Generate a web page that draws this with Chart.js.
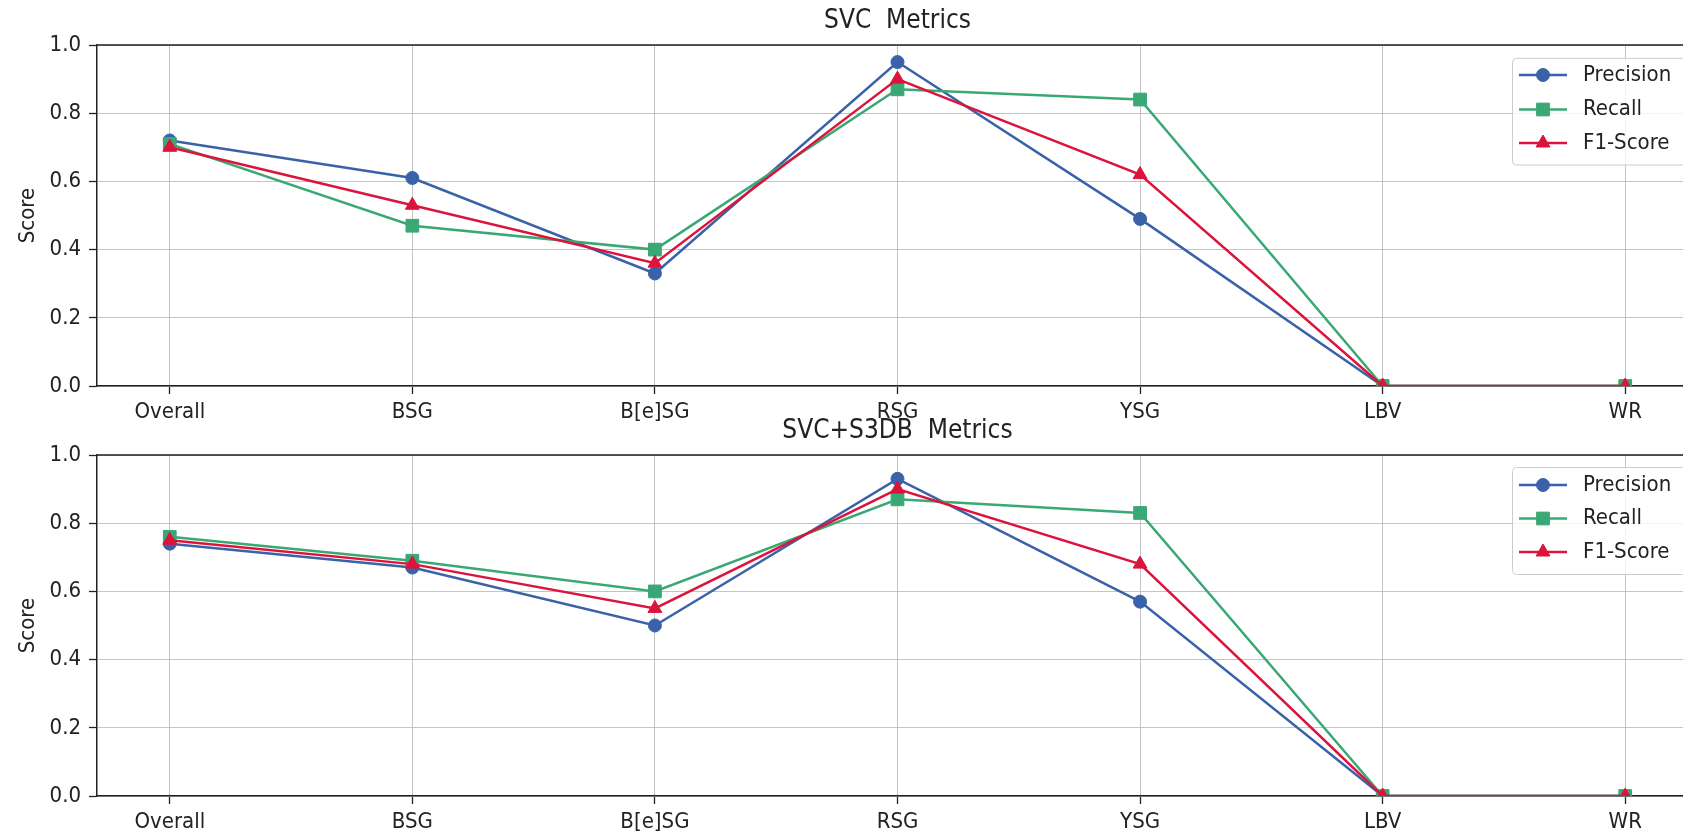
<!DOCTYPE html>
<html>
<head>
<meta charset="utf-8">
<script src="https://cdn.jsdelivr.net/npm/chart.js@4.4.1/dist/chart.umd.min.js"></script>
<style>
html,body{margin:0;padding:0;background:#ffffff;overflow:hidden;width:1683px;height:834px;}
canvas{position:absolute;left:0;}
#c1{top:0px;}
#c2{top:410px;}
</style>
</head>
<body>
<canvas id="c1" width="1760" height="424" style="width:1760px;height:424px"></canvas>
<canvas id="c2" width="1760" height="424" style="width:1760px;height:424px"></canvas>
<script>
// ---- data ----
const categories = ['Overall', 'BSG', 'B[e]SG', 'RSG', 'YSG', 'LBV', 'WR'];
const yTickValues = [0.0, 0.2, 0.4, 0.6, 0.8, 1.0];
const seriesNames = ['Precision', 'Recall', 'F1-Score'];
const chartTitles = ['SVC  Metrics', 'SVC+S3DB  Metrics'];
const yAxisTitle = 'Score';

const svcPrecision = [0.72, 0.61, 0.33, 0.95, 0.49, 0.00, 0.00];
const svcRecall    = [0.71, 0.47, 0.40, 0.87, 0.84, 0.00, 0.00];
const svcF1        = [0.70, 0.53, 0.36, 0.90, 0.62, 0.00, 0.00];

const s3dbPrecision = [0.74, 0.67, 0.50, 0.93, 0.57, 0.00, 0.00];
const s3dbRecall    = [0.76, 0.69, 0.60, 0.87, 0.83, 0.00, 0.00];
const s3dbF1        = [0.75, 0.68, 0.55, 0.90, 0.68, 0.00, 0.00];

// ---- styles ----
const seriesColors = ['#3a62a8', '#3aa874', '#dc143c'];
const seriesPointStyles = ['circle', 'rect', 'triangle'];
const seriesPointRadius = [6.5, 9, 8];
const TEXT = '#222222';
const FAMILY = "'DejaVu Sans Condensed', 'DejaVu Sans', sans-serif";

Chart.defaults.font.family = FAMILY;
Chart.defaults.font.size = 22;
Chart.defaults.color = TEXT;

function drawMarker(ctx, style, r, x, y) {
  if (Chart.helpers && Chart.helpers.drawPoint) {
    Chart.helpers.drawPoint(ctx, {pointStyle: style, radius: r, rotation: 0, borderWidth: 1}, x, y);
    return;
  }
  ctx.beginPath();
  if (style === 'circle') ctx.arc(x, y, r, 0, Math.PI * 2);
  else if (style === 'rect') { const s = r * Math.SQRT1_2; ctx.rect(x - s, y - s, 2 * s, 2 * s); }
  else { ctx.moveTo(x, y - r); ctx.lineTo(x + r * 0.866, y + r / 2); ctx.lineTo(x - r * 0.866, y + r / 2); ctx.closePath(); }
  ctx.fill(); ctx.stroke();
}

const mplPlugin = {
  id: 'mplDecor',
  afterDatasetsDraw(chart) {
    const {ctx, chartArea: a} = chart;
    ctx.save();
    ctx.strokeStyle = TEXT;
    ctx.lineWidth = 1.5;
    ctx.beginPath();
    ctx.moveTo(a.left - 0.75, a.top);
    ctx.lineTo(a.right, a.top);
    ctx.stroke();
    ctx.restore();
  },
  afterDraw(chart, args, opts) {
    const {ctx, chartArea: a} = chart;
    ctx.save();
    const x0 = a.right - 185.5;
    const y0 = a.top + opts.frameTop;
    const h = opts.frameBottom - opts.frameTop;
    ctx.beginPath();
    if (ctx.roundRect) ctx.roundRect(x0, y0, 174, h, 4); else ctx.rect(x0, y0, 174, h);
    ctx.fillStyle = 'rgba(255,255,255,0.8)';
    ctx.fill();
    ctx.strokeStyle = '#cccccc';
    ctx.lineWidth = 1;
    ctx.stroke();
    chart.data.datasets.forEach((ds, i) => {
      const y = a.top + opts.rows[i];
      ctx.strokeStyle = ds.borderColor;
      ctx.lineWidth = ds.borderWidth;
      ctx.beginPath();
      ctx.moveTo(a.right - 179, y);
      ctx.lineTo(a.right - 131, y);
      ctx.stroke();
      ctx.fillStyle = ds.pointBackgroundColor;
      ctx.strokeStyle = ds.pointBorderColor;
      ctx.lineWidth = 1;
      drawMarker(ctx, ds.pointStyle, ds.pointRadius, a.right - 155, y);
      ctx.fillStyle = TEXT;
      ctx.font = '22px ' + FAMILY;
      ctx.textBaseline = 'middle';
      ctx.textAlign = 'left';
      ctx.fillText(ds.label, a.right - 115, y);
    });
    ctx.restore();
  }
};

function makeDatasets(seriesList) {
  return seriesList.map((vals, i) => ({
    label: seriesNames[i],
    data: vals.map((v, k) => ({x: k, y: v})),
    borderColor: seriesColors[i],
    backgroundColor: seriesColors[i],
    pointBackgroundColor: seriesColors[i],
    pointBorderColor: seriesColors[i],
    pointBorderWidth: 1,
    pointStyle: seriesPointStyles[i],
    pointRadius: seriesPointRadius[i],
    pointHoverRadius: seriesPointRadius[i],
    borderWidth: 2.5,
    tension: 0,
    fill: false,
    order: 3 - i
  }));
}

function makeChart(canvasId, title, seriesList, legendOpts) {
  const gridCommon = {color: '#c4c4c4', lineWidth: 1, drawTicks: true, tickLength: 8, tickColor: TEXT, tickWidth: 1.3};
  return new Chart(document.getElementById(canvasId), {
    type: 'line',
    data: {datasets: makeDatasets(seriesList)},
    plugins: [mplPlugin],
    options: {
      responsive: false,
      animation: false,
      devicePixelRatio: 1,
      events: [],
      layout: {padding: {left: 0, right: 62, top: 0, bottom: 0}},
      plugins: {
        legend: {display: false},
        tooltip: {enabled: false},
        title: {
          display: true, text: title, fullSize: false, color: TEXT,
          font: {size: 26, weight: 'normal', lineHeight: 1.2},
          padding: {top: 5.4, bottom: 8.4}
        },
        mplDecor: legendOpts
      },
      scales: {
        x: {
          type: 'linear', min: -0.3, max: 6.3,
          afterBuildTicks: s => { s.ticks = categories.map((c, i) => ({value: i})); },
          afterFit: s => { s.height = 38; },
          ticks: {callback: v => categories[v], padding: 4.8, maxRotation: 0, autoSkip: false, color: TEXT, font: {size: 22}},
          grid: gridCommon,
          border: {display: true, color: TEXT, width: 1.5}
        },
        y: {
          type: 'linear', min: 0, max: 1,
          afterBuildTicks: s => { s.ticks = yTickValues.map(v => ({value: v})); },
          afterFit: s => { s.width = 97; },
          ticks: {callback: v => Number(v).toFixed(1), padding: 8, color: TEXT, font: {size: 22}},
          grid: gridCommon,
          border: {display: true, color: TEXT, width: 1.5},
          title: {display: true, text: yAxisTitle, color: TEXT, font: {size: 22}, padding: {top: 15.3, bottom: 0}}
        }
      }
    }
  });
}

makeChart('c1', chartTitles[0], [svcPrecision, svcRecall, svcF1],
  {frameTop: 13.3, frameBottom: 120, rows: [30, 64.5, 98]});
makeChart('c2', chartTitles[1], [s3dbPrecision, s3dbRecall, s3dbF1],
  {frameTop: 12.5, frameBottom: 119.5, rows: [30, 63.5, 97]});
</script>
</body>
</html>
